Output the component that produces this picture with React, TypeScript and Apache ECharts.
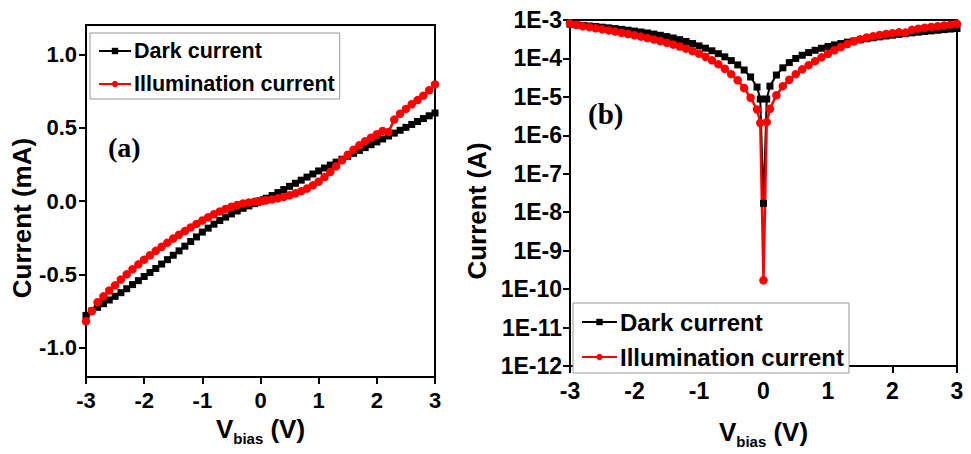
import React, { useEffect, useRef } from "react";
import * as echarts from "echarts";

// Bias voltage sweep (V)
const VOLTAGE = [
  -3.0, -2.9, -2.8, -2.7, -2.6, -2.5, -2.4, -2.3, -2.2, -2.1, -2.0, -1.9, -1.8, -1.7, -1.6,
  -1.5, -1.4, -1.3, -1.2, -1.1, -1.0, -0.9, -0.8, -0.7, -0.6, -0.5, -0.4, -0.3, -0.2, -0.1,
  -0.05, 0, 0.05,
  0.1, 0.2, 0.3, 0.4, 0.5, 0.6, 0.7, 0.8, 0.9, 1.0, 1.1, 1.2, 1.3, 1.4, 1.5, 1.6, 1.7, 1.8,
  1.9, 2.0, 2.1, 2.2, 2.3, 2.4, 2.5, 2.6, 2.7, 2.8, 2.9, 3.0,
];

// Dark current (mA)
const DARK_MA = [
  -0.78, -0.75, -0.725, -0.7, -0.675, -0.65, -0.625, -0.598, -0.57, -0.543, -0.515, -0.488,
  -0.46, -0.43, -0.4, -0.37, -0.34, -0.308, -0.276, -0.245, -0.212, -0.185, -0.158, -0.133,
  -0.11, -0.088, -0.068, -0.05, -0.033, -0.018,
  -0.0088, 0.000017, 0.0088,
  0.019, 0.037, 0.057, 0.078, 0.1, 0.121, 0.142, 0.163, 0.184, 0.205, 0.225, 0.245, 0.265,
  0.285, 0.305, 0.325, 0.345, 0.364, 0.384, 0.403, 0.423, 0.443, 0.463, 0.482, 0.502, 0.522,
  0.542, 0.562, 0.581, 0.6,
];

// Current under illumination (mA)
const LIGHT_MA = [
  -0.82, -0.75, -0.69, -0.65, -0.61, -0.575, -0.535, -0.5, -0.465, -0.432, -0.4, -0.37, -0.34,
  -0.312, -0.284, -0.256, -0.23, -0.205, -0.18, -0.156, -0.133, -0.111, -0.09, -0.071, -0.054,
  -0.039, -0.027, -0.017, -0.0095, -0.0047,
  -0.0021, 0.00000017, 0.0022,
  0.0049, 0.011, 0.019, 0.028, 0.039, 0.052, 0.067, 0.085, 0.107, 0.132, 0.163, 0.198, 0.237,
  0.277, 0.315, 0.35, 0.38, 0.408, 0.432, 0.455, 0.478, 0.47, 0.555, 0.595, 0.628, 0.66, 0.688,
  0.718, 0.755, 0.795,
];

const SERIES_NAMES = ["Dark current", "Illumination current"];
const LINEAR_Y_TICKS = [-1.0, -0.5, 0.0, 0.5, 1.0];

const FONT = "Liberation Sans, Arial, sans-serif";
const SERIF = "Liberation Serif, Times New Roman, serif";

export default function App() {
  const ref = useRef<HTMLDivElement>(null);

  useEffect(() => {
    if (!ref.current) return;
    const chart = echarts.init(ref.current, undefined, { renderer: "svg" });

    const linPts = (arr: number[]) => VOLTAGE.map((v, i) => [v, arr[i]]);
    const logPts = (arr: number[]) => VOLTAGE.map((v, i) => [v, Math.abs(arr[i]) * 1e-3]);

    const darkStyle = {
      symbol: "rect",
      symbolSize: 7,
      itemStyle: { color: "#000" },
      lineStyle: { color: "#000", width: 2 },
    };
    const lightStyle = {
      symbol: "circle",
      symbolSize: 8.5,
      itemStyle: { color: "#ff0000" },
      lineStyle: { color: "#ff0000", width: 2.5 },
    };

    const xAxisBase = (gridIndex: number, fontSize: number, margin: number, nameGap: number) => ({
      gridIndex,
      type: "value",
      min: -3,
      max: 3,
      interval: 1,
      axisLine: { show: true, onZero: false, lineStyle: { color: "#000", width: 2 } },
      axisTick: { show: true, inside: false, length: 7, lineStyle: { color: "#000", width: 2 } },
      axisLabel: {
        color: "#000",
        fontFamily: FONT,
        fontWeight: "bold",
        fontSize,
        margin,
      },
      splitLine: { show: false },
      name: "{v|V}{s|bias}{v| (V)}",
      nameLocation: "middle",
      nameGap,
      nameTextStyle: {
        rich: {
          v: {
            fontFamily: FONT,
            fontWeight: "bold",
            fontSize: 26,
            color: "#000",
            verticalAlign: "bottom",
            padding: [0, 0, 4, 0],
          },
          s: {
            fontFamily: FONT,
            fontWeight: "bold",
            fontSize: 15,
            color: "#000",
            verticalAlign: "bottom",
          },
        },
      },
    });

    const legendBase = (left: number, top: number, fontSize: number, itemWidth: number) => ({
      data: SERIES_NAMES,
      orient: "vertical",
      left,
      top,
      itemWidth,
      itemHeight: 8,
      itemGap: 11,
      padding: [7, 5, 4, 8],
      borderColor: "#999",
      borderWidth: 1,
      backgroundColor: "#fff",
      selectedMode: false,
      textStyle: { fontFamily: FONT, fontWeight: "bold", fontSize, color: "#000", padding: [0, 0, 0, -2] },
    });

    chart.setOption({
      animation: false,
      backgroundColor: "#fff",
      grid: [
        { left: 86, top: 25, width: 349, height: 352, show: true, borderColor: "#000", borderWidth: 2, backgroundColor: "transparent" },
        { left: 570, top: 20, width: 387, height: 356, show: true, borderColor: "#000", borderWidth: 2, backgroundColor: "transparent" },
      ],
      xAxis: [xAxisBase(0, 22, 12, 37), xAxisBase(1, 23, 13, 53)],
      yAxis: [
        {
          gridIndex: 0,
          type: "value",
          min: -1.2,
          max: 1.2,
          axisLine: { show: true, onZero: false, lineStyle: { color: "#000", width: 2 } },
          axisTick: {
            show: true,
            inside: false,
            length: 7,
            customValues: LINEAR_Y_TICKS,
            lineStyle: { color: "#000", width: 2 },
          },
          axisLabel: {
            customValues: LINEAR_Y_TICKS,
            formatter: (v: number) => v.toFixed(1),
            color: "#000",
            fontFamily: FONT,
            fontWeight: "bold",
            fontSize: 22,
            margin: 9,
          },
          splitLine: { show: false },
          name: "Current (mA)",
          nameLocation: "middle",
          nameGap: 50,
          nameTextStyle: {
            fontFamily: FONT,
            fontWeight: "bold",
            fontSize: 26,
            color: "#000",
            padding: [0, 34, 0, 0],
          },
        },
        {
          gridIndex: 1,
          type: "log",
          logBase: 10,
          min: 1e-12,
          max: 1e-3,
          splitNumber: 9,
          axisLine: { show: true, onZero: false, lineStyle: { color: "#000", width: 2 } },
          axisTick: { show: true, inside: false, length: 7, lineStyle: { color: "#000", width: 2 } },
          axisLabel: {
            formatter: (v: number) => "1E" + Math.round(Math.log10(v)),
            color: "#000",
            fontFamily: FONT,
            fontWeight: "bold",
            fontSize: 23,
            margin: 8,
          },
          splitLine: { show: false },
          name: "Current (A)",
          nameLocation: "middle",
          nameGap: 80,
          nameTextStyle: {
            fontFamily: FONT,
            fontWeight: "bold",
            fontSize: 26,
            color: "#000",
            padding: [0, 36, 0, 0],
          },
        },
      ],
      legend: [legendBase(90, 33, 21.5, 32), legendBase(573, 303, 24, 35)],
      graphic: [
        {
          type: "text",
          left: 108,
          top: 133,
          style: { text: "(a)", fontFamily: SERIF, fontWeight: "bold", fontSize: 28, fill: "#000" },
        },
        {
          type: "text",
          left: 588,
          top: 99,
          style: { text: "(b)", fontFamily: SERIF, fontWeight: "bold", fontSize: 29, fill: "#000" },
        },
      ],
      series: [
        { name: SERIES_NAMES[0], type: "line", xAxisIndex: 0, yAxisIndex: 0, data: linPts(DARK_MA), ...darkStyle },
        { name: SERIES_NAMES[1], type: "line", xAxisIndex: 0, yAxisIndex: 0, data: linPts(LIGHT_MA), ...lightStyle },
        { name: SERIES_NAMES[0], type: "line", xAxisIndex: 1, yAxisIndex: 1, data: logPts(DARK_MA), ...darkStyle },
        { name: SERIES_NAMES[1], type: "line", xAxisIndex: 1, yAxisIndex: 1, data: logPts(LIGHT_MA), ...lightStyle },
      ],
    });

    return () => chart.dispose();
  }, []);

  return (
    <div
      ref={ref}
      style={{ position: "absolute", left: 0, top: 0, width: 971, height: 454, background: "#fff" }}
    />
  );
}
